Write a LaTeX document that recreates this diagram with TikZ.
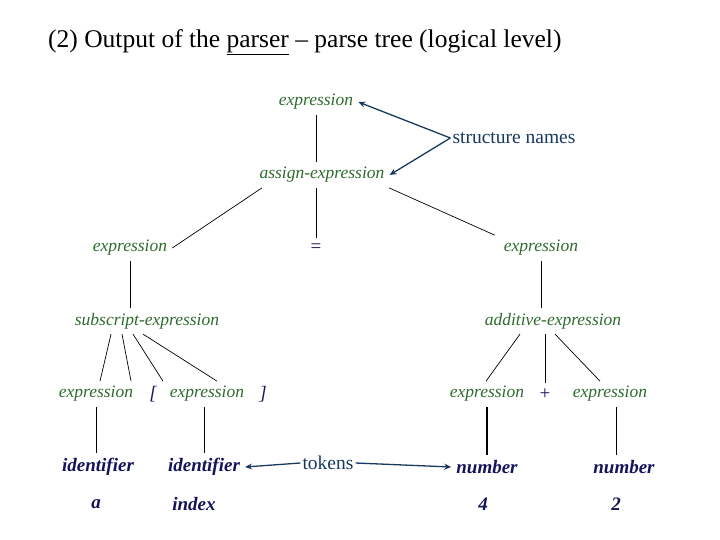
\documentclass[tikz,border=0pt]{standalone}
\usepackage{fontspec}
\setmainfont{Liberation Serif}
\usetikzlibrary{arrows.meta}
\definecolor{sgreen}{HTML}{2E6B2E}
\definecolor{tnavy}{HTML}{14145A}
\definecolor{anavy}{HTML}{173A5E}
\begin{document}
\begin{tikzpicture}[x=1pt,y=-1pt,
  sn/.style={font=\fontsize{17.5}{19}\selectfont\itshape, text=sgreen, inner sep=5pt},
  tk/.style={font=\fontsize{19}{21}\selectfont\bfseries\itshape, text=tnavy, inner sep=5pt},
  sym/.style={font=\fontsize{19}{21}\selectfont, text=tnavy, inner sep=5pt},
  lbl/.style={font=\fontsize{19.5}{21}\selectfont, text=anavy, inner sep=2pt},
  edge/.style={draw=black, line width=0.7pt},
  ptr/.style={draw=anavy, line width=1.3pt, -{Stealth[length=7pt,width=6pt]}}]
\useasboundingbox (0,0) rectangle (720,540);
\node[font=\fontsize{25.5}{28}\selectfont, anchor=west, inner sep=0pt] (title) at (48,42) {(2) Output of the \underline{parser} -- parse tree (logical level)};
\node[sn] (e1) at (316,102) {expression};
\node[sn] (asg) at (322,175) {assign-expression};
\node[sn] (eL) at (130,248) {expression};
\node[sym] (eq) at (316,248) {=};
\node[sn] (eR) at (541,248) {expression};
\node[sn] (sub) at (147,321) {subscript-expression};
\node[sn] (add) at (553,321) {additive-expression};
\node[sn] (e3) at (96,394) {expression};
\node[sym] (lb) at (153,394) {\itshape [};
\node[sn] (e4) at (207,394) {expression};
\node[sym] (rb) at (263,394) {\itshape ]};
\node[sn] (e5) at (487,394) {expression};
\node[sym] (plus) at (545,394) {+};
\node[sn] (e6) at (610,394) {expression};
\node[tk] (id1) at (98,467) {identifier};
\node[tk] (id2) at (204,467) {identifier};
\node[tk] (n1) at (487,467) {number};
\node[tk] (n2) at (624,467) {number};
\node[tk] (va) at (96,504) {a};
\node[tk] (vi) at (194,504) {index};
\node[tk] (v4) at (483,504) {4};
\node[tk] (v2) at (616,504) {2};
\node[lbl] (sn) at (514,138) {structure names};
\node[lbl] (tok) at (328,463) {tokens};
% tree edges
\draw[edge] (e1) -- (e1 |- asg.north);
\draw[edge] (asg.south -| eq) -- (eq);
\draw[edge] ([xshift=-60pt]asg.south) -- (eL.east);
\draw[edge] ([xshift=67pt]asg.south) -- ([xshift=-4pt]eR.north west);
\draw[edge] (eL.south) -- (eL.south |- sub.north);
\draw[edge] (eR.south) -- (eR.south |- add.north);
\draw[edge] ([xshift=-36pt]sub.south) -- ([xshift=4pt]e3.north);
\draw[edge] ([xshift=-25pt]sub.south) -- ([xshift=-22pt]lb.north);
\draw[edge] ([xshift=-14pt]sub.south) -- ([xshift=-44pt]e4.north);
\draw[edge] ([xshift=-4pt]sub.south) -- ([xshift=10pt]e4.north);
\draw[edge] ([xshift=-33pt]add.south) -- ([xshift=-1pt]e5.north);
\draw[edge] (add.south -| plus) -- (plus.north);
\draw[edge] ([xshift=2pt]add.south) -- ([xshift=-10pt]e6.north);
\draw[edge] (e3.south) -- (e3.south |- id1.north);
\draw[edge] (e4.south -| id2) -- (id2.north);
\draw[line width=1.2pt] (e5.south) -- (e5.south |- n1.north);
\draw[edge] ([xshift=6pt]e6.south) -- ([xshift=6pt]e6.south |- n2.north);
% pointers
\draw[ptr] (sn.west) -- (e1.east);
\draw[ptr] (sn.west) -- (asg.east);
\draw[ptr] (tok.west) -- (id2.east);
\draw[ptr] (tok.east) -- (n1.west);
\end{tikzpicture}
\end{document}
